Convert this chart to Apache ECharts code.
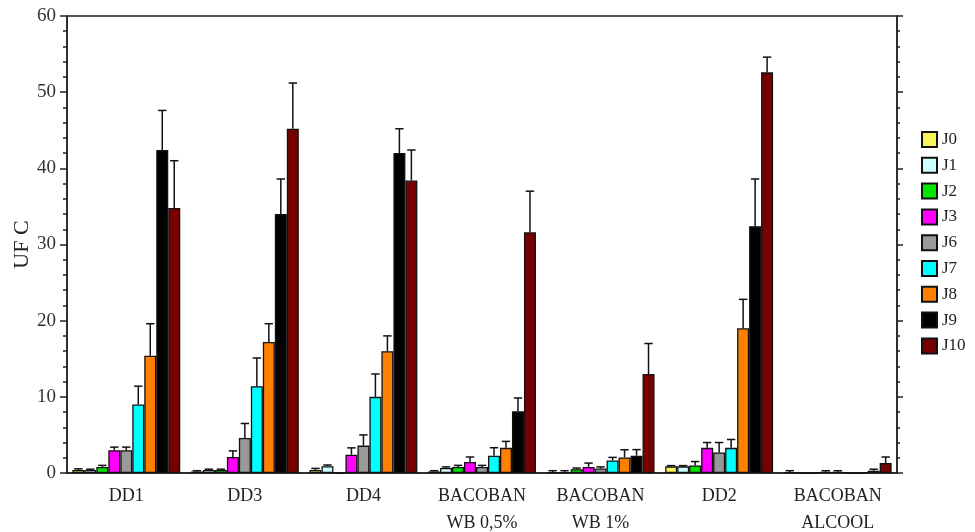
<!DOCTYPE html>
<html>
<head>
<meta charset="utf-8">
<script src="https://cdn.jsdelivr.net/npm/echarts@6/dist/echarts.min.js"></script>
<style>
  html, body { margin: 0; padding: 0; background: #fff; }
  #chart { width: 975px; height: 532px; }
</style>
</head>
<body>
<div id="chart"></div>
<script>
// categories (treatments)
var categories = ['DD1', 'DD3', 'DD4', 'BACOBAN\nWB 0,5%', 'BACOBAN\nWB 1%', 'DD2', 'BACOBAN\nALCOOL'];
// days
var seriesNames = ['J0', 'J1', 'J2', 'J3', 'J6', 'J7', 'J8', 'J9', 'J10'];
var seriesColors = ['#f7f35a', '#ccffff', '#00e600', '#ff00ff', '#999999', '#00ffff', '#ff8000', '#000000', '#770000'];
// mean values per day, one number per category
var J0  = [0.4, 0.2, 0.4, 0.2, 0.1, 0.87, 0.1];
var J1  = [0.4, 0.4, 0.9, 0.65, 0.1, 0.87, 0];
var J2  = [0.8, 0.4, 0, 0.8, 0.5, 1.0, 0];
var J3  = [3.0, 2.1, 2.4, 1.45, 0.8, 3.3, 0.15];
var J6  = [3.0, 4.6, 3.6, 0.8, 0.6, 2.7, 0.15];
var J7  = [9.0, 11.4, 10.0, 2.27, 1.65, 3.3, 0];
var J8  = [15.4, 17.2, 16.0, 3.3, 2.05, 19.0, 0];
var J9  = [42.4, 34.0, 42.0, 8.1, 2.27, 32.4, 0.3];
var J10 = [34.8, 45.2, 38.4, 31.6, 13.0, 52.6, 1.3];
// error bar (upper) sizes
var E0  = [0.15, 0.1, 0.2, 0.1, 0.2, 0.1, 0.2];
var E1  = [0.1, 0.1, 0.15, 0.15, 0.2, 0.1, 0];
var E2  = [0.2, 0.1, 0, 0.2, 0.15, 0.5, 0];
var E3  = [0.4, 0.8, 0.9, 0.65, 0.5, 0.7, 0.15];
var E6  = [0.4, 1.9, 1.4, 0.2, 0.2, 1.3, 0.15];
var E7  = [2.4, 3.7, 3.0, 1.05, 0.4, 1.1, 0];
var E8  = [4.2, 2.4, 2.0, 0.85, 1.0, 3.8, 0];
var E9  = [5.2, 4.6, 3.2, 1.75, 0.8, 6.2, 0.2];
var E10 = [6.2, 6.0, 4.0, 5.4, 4.0, 2.0, 0.8];

var yTicks = [0, 10, 20, 30, 40, 50, 60];

var means = [J0, J1, J2, J3, J6, J7, J8, J9, J10];
var errs = [E0, E1, E2, E3, E6, E7, E8, E9, E10];

var serif = 'Liberation Serif, Times New Roman, serif';
var nS = seriesNames.length;
var gapPct = 0.09;

var series = [];
for (var s = 0; s < nS; s++) {
    series.push({
        name: seriesNames[s],
        type: 'bar',
        data: means[s],
        barGap: 0,
        barCategoryGap: '9%',
        itemStyle: { color: seriesColors[s], borderColor: '#111', borderWidth: 1.3 },
        emphasis: { disabled: true },
        z: 2
    });
}

// error bars: [catIdx, top, seriesIdx, mean]
var errData = [];
for (var s2 = 0; s2 < nS; s2++) {
    for (var c = 0; c < categories.length; c++) {
        if (errs[s2][c] > 0) {
            errData.push([c, means[s2][c] + errs[s2][c], s2, means[s2][c]]);
        }
    }
}

series.push({
    type: 'custom',
    name: 'err',
    data: errData,
    encode: { x: 0, y: 1 },
    z: 3,
    renderItem: function (params, api) {
        var cat = api.value(0);
        var top = api.value(1);
        var si = api.value(2);
        var mean = api.value(3);
        var band = api.size([1, 0])[0];
        var bw = band * (1 - gapPct) / nS;
        var cx = api.coord([cat, 0])[0] + (si - (nS - 1) / 2) * bw;
        var yTop = api.coord([cat, top])[1];
        var yMean = api.coord([cat, mean])[1];
        var style = { stroke: '#111', lineWidth: 1.5 };
        return {
            type: 'group',
            children: [
                { type: 'line', shape: { x1: cx, y1: yMean, x2: cx, y2: yTop }, style: style },
                { type: 'line', shape: { x1: cx - bw * 0.35, y1: yTop, x2: cx + bw * 0.35, y2: yTop }, style: style }
            ]
        };
    }
});

var chart = echarts.init(document.getElementById('chart'));
chart.setOption({
    backgroundColor: '#fff',
    animation: false,
    grid: { left: 67, right: 78, top: 16, bottom: 59, show: true, borderColor: '#222', borderWidth: 1.5, outerBoundsMode: 'none', containLabel: false },
    legend: {
        data: seriesNames,
        orient: 'vertical',
        left: 916,
        top: 126,
        itemWidth: 15,
        itemHeight: 15,
        itemGap: 8.8,
        icon: 'rect',
        textStyle: { fontFamily: serif, fontSize: 17, color: '#222' }
    },
    xAxis: {
        type: 'category',
        data: categories,
        axisLine: { lineStyle: { color: '#222', width: 1.5 } },
        axisTick: { show: false },
        axisLabel: { fontFamily: serif, fontSize: 18, color: '#222', margin: 10, lineHeight: 27 }
    },
    yAxis: [{
        type: 'value',
        min: yTicks[0],
        max: yTicks[yTicks.length - 1],
        interval: 10,
        name: 'UF C',
        nameLocation: 'middle',
        nameGap: 34,
        nameMoveOverlap: false,
        nameTextStyle: { fontFamily: serif, fontSize: 22, color: '#222' },
        splitLine: { show: false },
        axisLine: { show: true, lineStyle: { color: '#222', width: 1.5 } },
        axisTick: { show: true, length: 7, lineStyle: { color: '#222', width: 1.5 } },
        minorTick: { show: true, splitNumber: 5, length: 4, lineStyle: { color: '#222', width: 1.5 } },
        axisLabel: { fontFamily: serif, fontSize: 19, color: '#333', margin: 11 }
    }, {
        type: 'value',
        position: 'right',
        min: yTicks[0],
        max: yTicks[yTicks.length - 1],
        interval: 10,
        splitLine: { show: false },
        axisLine: { show: true, lineStyle: { color: '#222', width: 1.5 } },
        axisTick: { show: true, length: 6, lineStyle: { color: '#222', width: 1.5 } },
        minorTick: { show: true, splitNumber: 5, length: 3, lineStyle: { color: '#222', width: 1.5 } },
        axisLabel: { show: false }
    }],
    series: series
});
</script>
</body>
</html>
